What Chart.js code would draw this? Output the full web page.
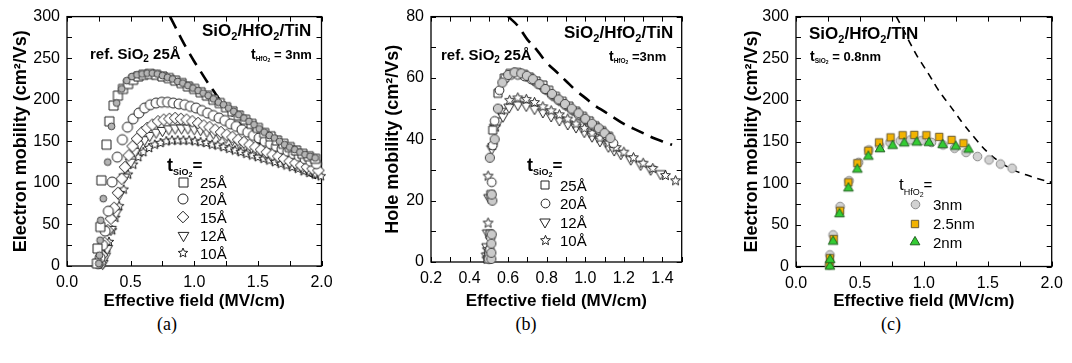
<!DOCTYPE html>
<html lang="en">

<head>
  <meta charset="UTF-8" />
  <title>Mobility vs effective field</title>
  <script src="https://cdn.jsdelivr.net/npm/chart.js"></script>
  <style>
    body { margin: 0; background: #fff; }
    #page { position: relative; width: 1072px; height: 363px; overflow: hidden; }
    canvas { position: absolute; top: 0; }
    .cap { position: absolute; top: 314px; font: 18px 'Liberation Serif', serif; color: #000; transform: translateX(-50%); }
  </style>
</head>

<body>
  <div id="page">
    <canvas id="chartA" width="340" height="312" style="left:0px"></canvas>
    <canvas id="chartB" width="335" height="312" style="left:365px"></canvas>
    <canvas id="chartC" width="352" height="312" style="left:720px"></canvas>
    <div class="cap" style="left:167px">(a)</div>
    <div class="cap" style="left:526px">(b)</div>
    <div class="cap" style="left:891px">(c)</div>
  </div>

  <script>
    // (a) electron mobility, t_HfO2 = 3nm, various t_SiO2  [field MV/cm, mobility cm2/Vs]
    const aRef = [[0.25,3],[0.255,13],[0.26,31],[0.265,55],[0.285,81],[0.32,125],[0.35,168],[0.39,196],[0.43,213],[0.47,223],[0.51,228],[0.55,230],[0.59,231],[0.63,232],[0.67,232],[0.71,231],[0.75,229],[0.79,227],[0.83,225],[0.87,222],[0.91,220],[0.95,217],[0.99,214],[1.03,211],[1.07,208],[1.11,205],[1.15,201],[1.19,197],[1.23,194],[1.27,190],[1.31,186],[1.35,182],[1.39,178],[1.43,174],[1.47,170],[1.51,165],[1.55,161],[1.59,157],[1.63,154],[1.67,150],[1.71,146],[1.75,143],[1.79,140],[1.83,137],[1.87,134],[1.91,132],[1.95,130]];
    const a25 = [[0.235,3],[0.24,21],[0.262,47],[0.27,103],[0.31,146],[0.333,174],[0.366,193],[0.40,205],[0.44,213],[0.48,219],[0.52,224],[0.56,228],[0.60,230],[0.65,231],[0.70,230],[0.75,228],[0.80,226],[0.85,223],[0.90,220],[0.95,216],[1.00,213],[1.05,209],[1.10,205],[1.15,200],[1.20,196],[1.25,191],[1.30,186],[1.35,181],[1.40,176],[1.45,171],[1.50,166],[1.55,160],[1.60,156],[1.65,151],[1.70,147],[1.75,143],[1.80,139],[1.85,135],[1.90,132],[1.95,129]];
    const a20 = [[0.245,3],[0.26,10],[0.28,25],[0.30,42],[0.325,66],[0.355,101],[0.395,131],[0.435,152],[0.475,167],[0.52,177],[0.565,184],[0.61,190],[0.655,194],[0.70,196],[0.745,197],[0.79,197],[0.835,196],[0.88,195],[0.925,194],[0.97,192],[1.015,190],[1.06,187],[1.105,184],[1.15,181],[1.195,178],[1.24,175],[1.285,171],[1.33,168],[1.375,164],[1.42,161],[1.465,157],[1.51,154],[1.555,150],[1.60,147],[1.645,144],[1.69,141],[1.735,138],[1.78,135],[1.825,132],[1.87,129],[1.915,126],[1.96,123]];
    const a15 = [[0.26,4],[0.275,13],[0.295,28],[0.32,43],[0.345,57],[0.37,70],[0.40,88],[0.43,105],[0.455,119],[0.485,133],[0.515,144],[0.55,153],[0.59,161],[0.63,166],[0.67,170],[0.715,174],[0.76,176],[0.805,177],[0.85,178],[0.895,177],[0.94,176],[0.985,174],[1.03,172],[1.075,169],[1.12,167],[1.165,164],[1.21,161],[1.255,158],[1.30,155],[1.345,152],[1.39,149],[1.435,146],[1.48,143],[1.525,140],[1.57,137],[1.615,134],[1.66,132],[1.705,129],[1.75,126],[1.795,124],[1.84,121],[1.885,119],[1.93,117],[1.975,115]];
    const a12 = [[0.28,3],[0.30,12],[0.315,21],[0.345,44],[0.385,64],[0.41,86],[0.45,107],[0.50,125],[0.535,138],[0.57,147],[0.61,152],[0.65,157],[0.70,161],[0.75,163],[0.80,165],[0.85,166],[0.90,166],[0.95,166],[1.00,165],[1.05,164],[1.10,162],[1.15,160],[1.20,158],[1.25,155],[1.30,152],[1.35,149],[1.40,146],[1.45,143],[1.50,140],[1.55,137],[1.60,134],[1.65,131],[1.70,128],[1.75,125],[1.80,122],[1.85,119],[1.90,116],[1.95,113]];
    const a10 = [[0.27,3],[0.295,13],[0.315,22],[0.33,29],[0.355,43],[0.38,58],[0.41,72],[0.445,92],[0.48,110],[0.52,122],[0.56,131],[0.60,137],[0.645,142],[0.69,146],[0.735,148],[0.78,150],[0.825,151],[0.87,151],[0.915,151],[0.96,151],[1.005,150],[1.05,149],[1.095,148],[1.14,146],[1.185,145],[1.23,143],[1.275,141],[1.32,139],[1.365,137],[1.41,135],[1.455,133],[1.50,131],[1.545,129],[1.59,127],[1.635,125],[1.68,123],[1.725,121],[1.77,119],[1.815,117],[1.86,114],[1.905,112],[1.95,110],[1.995,108]];
    const aUniv = [[0.81,300],[0.85,288],[0.9,273],[0.95,259],[1.0,246],[1.05,234],[1.1,222],[1.15,211],[1.2,200],[1.3,181],[1.4,164],[1.5,150],[1.6,137],[1.7,127],[1.8,118],[1.9,110],[2.0,103]];

    // (b) hole mobility
    const bRef = [[0.513,1],[0.513,3],[0.513,6],[0.515,9],[0.518,20],[0.515,22],[0.505,34],[0.53,40],[0.547,50],[0.57,58.5],[0.60,61],[0.633,61.8],[0.668,61.5],[0.697,60.7],[0.728,59.6],[0.762,58],[0.793,56.4],[0.828,54.8],[0.862,53],[0.895,51.5],[0.93,50],[0.965,48.5],[1.0,46.7],[1.035,45.1],[1.07,43.6],[1.10,42],[1.13,40.4]];
    const b25 = [[0.495,1],[0.50,3],[0.505,9],[0.51,22],[0.52,43],[0.547,55],[0.58,60],[0.61,61.5],[0.645,61.8],[0.68,61.2],[0.71,60.3],[0.745,59],[0.78,57.7],[0.81,56],[0.845,54],[0.88,52.4],[0.915,50.8],[0.95,49.2],[0.985,47.5],[1.02,46],[1.05,44.4],[1.085,42.8],[1.12,41]];
    const b20 = [[0.50,1],[0.505,4],[0.51,8],[0.515,26],[0.52,38],[0.53,46],[0.555,56],[0.585,60],[0.615,61],[0.65,61],[0.685,60.5],[0.72,59.5],[0.755,58],[0.79,56.3],[0.825,54.5],[0.86,52.8],[0.895,51.2],[0.93,49.6],[0.965,48],[1.0,46.4],[1.04,44.6],[1.075,43],[1.11,41.3],[1.146,38.7]];
    const b12 = [[0.488,2],[0.49,5],[0.493,9.5],[0.50,21],[0.515,37],[0.53,44],[0.55,46],[0.573,47.5],[0.605,50.5],[0.65,51.3],[0.694,51],[0.737,50],[0.78,48.9],[0.823,47.6],[0.866,46.3],[0.909,45],[0.952,44],[0.995,42.5],[1.035,41],[1.076,39.5],[1.12,37.7],[1.15,36.5],[1.184,35.3],[1.236,33.5],[1.287,31.8],[1.339,30.2],[1.39,28.8]];
    const b10 = [[0.49,1],[0.492,4],[0.496,12.7],[0.496,28],[0.52,38],[0.535,44],[0.565,49.5],[0.608,52.7],[0.65,53.5],[0.694,53],[0.737,52],[0.78,50.6],[0.823,49.3],[0.866,48],[0.909,46.6],[0.952,45],[0.995,43.6],[1.035,42],[1.076,40.4],[1.12,38.8],[1.16,37.3],[1.20,35.8],[1.25,34],[1.30,32.2],[1.35,30.5],[1.416,28.2],[1.468,26.5]];
    const bUniv = [[0.6,80],[0.65,77],[0.7,72.5],[0.75,69],[0.8,65],[0.85,62],[0.9,59],[0.95,56],[1.0,53.5],[1.05,51],[1.1,49],[1.15,47],[1.2,45],[1.25,43.5],[1.3,42],[1.35,40.5],[1.4,39.3],[1.45,38.2]];

    // (c) electron mobility, t_SiO2 = 0.8nm, various t_HfO2
    const c3 = [[0.26,2],[0.265,14],[0.29,38],[0.345,72],[0.415,103],[0.49,125],[0.57,140],[0.655,145],[0.735,149],[0.815,151],[0.895,152],[0.98,151],[1.06,149],[1.15,146],[1.24,142],[1.33,137],[1.42,132],[1.51,128],[1.60,123],[1.69,118]];
    const c25 = [[0.262,2],[0.265,10],[0.295,33],[0.345,67],[0.41,101],[0.48,124],[0.566,139],[0.65,149],[0.74,155],[0.834,157.6],[0.925,158],[1.02,157.6],[1.12,155.6],[1.217,152],[1.31,148]];
    const c2 = [[0.265,0],[0.267,8],[0.29,30],[0.34,63],[0.41,94],[0.48,116.5],[0.566,132],[0.657,141],[0.756,145],[0.847,148],[0.944,149],[1.04,148.5],[1.147,146],[1.25,144],[1.35,140.5]];
    const cUniv = [[0.785,300],[0.85,281],[0.9,266],[0.95,252],[1.0,240],[1.05,228],[1.1,215],[1.15,204],[1.2,194],[1.3,173],[1.4,154],[1.5,137],[1.6,125],[1.7,116],[1.8,110],[1.9,105],[2.0,101]];

    const FONT = "'Liberation Sans', Arial, sans-serif";
    Chart.defaults.font.family = FONT;
    Chart.defaults.color = '#000';

    // marker sprites, used both as pointStyle and in the hand drawn legends
    function marker(shape, r, fill, stroke) {
      const lw = 1;
      const s = Math.ceil(2 * r + 4);
      const cv = document.createElement('canvas');
      cv.width = cv.height = s;
      const g = cv.getContext('2d');
      const c = s / 2;
      g.beginPath();
      if (shape === 'circle') g.arc(c, c, r, 0, Math.PI * 2);
      else if (shape === 'square') g.rect(c - r, c - r, 2 * r, 2 * r);
      else if (shape === 'diamond') {
        g.moveTo(c, c - r); g.lineTo(c + r, c); g.lineTo(c, c + r); g.lineTo(c - r, c); g.closePath();
      } else if (shape === 'triDown') {
        g.moveTo(c, c + r); g.lineTo(c - r * 0.866, c - r / 2); g.lineTo(c + r * 0.866, c - r / 2); g.closePath();
      } else if (shape === 'triUp') {
        g.moveTo(c, c - r); g.lineTo(c - r * 0.866, c + r / 2); g.lineTo(c + r * 0.866, c + r / 2); g.closePath();
      } else if (shape === 'star') {
        for (let i = 0; i < 10; i++) {
          const rr = i % 2 ? r * 0.45 : r;
          const ang = -Math.PI / 2 + i * Math.PI / 5;
          const px = c + rr * Math.cos(ang), py = c + rr * Math.sin(ang);
          if (i === 0) g.moveTo(px, py); else g.lineTo(px, py);
        }
        g.closePath();
      }
      g.fillStyle = fill;
      g.fill();
      g.lineWidth = lw;
      g.strokeStyle = stroke;
      g.stroke();
      return cv;
    }

    const mk = {
      aGray: marker('circle', 3.4, '#b4b4b4', '#444'),
      aSq: marker('square', 4.5, '#fff', '#222'),
      aCirc: marker('circle', 5, '#fff', '#222'),
      aDia: marker('diamond', 5.8, '#fff', '#222'),
      aTri: marker('triDown', 6.2, '#fff', '#222'),
      aStar: marker('star', 5, '#fff', '#222'),
      bGray: marker('circle', 4.6, '#cacaca', '#444'),
      bSq: marker('square', 4, '#fff', '#222'),
      bCirc: marker('circle', 4.4, '#fff', '#222'),
      bTri: marker('triDown', 6, '#fff', '#222'),
      bStar: marker('star', 5.2, '#fff', '#222'),
      cCirc: marker('circle', 4.3, '#d2d2d2', '#888'),
      cSq: marker('square', 3.7, '#f2b300', '#6a5a30'),
      cTri: marker('triUp', 5.6, '#33cc33', '#1f5f1f')
    };

    function pts(arr) { return arr.map(p => ({ x: p[0], y: p[1] })); }

    function markers(arr, sprite) {
      return { data: pts(arr), pointStyle: sprite, pointRadius: 5, showLine: false, clip: false };
    }

    function dashed(arr, width, dash) {
      return {
        data: pts(arr), showLine: true, pointRadius: 0, borderColor: '#000', borderWidth: width,
        borderDash: dash, order: 10, tension: 0.4
      };
    }

    // frame, inward ticks on all sides, and free text
    const framePlugin = {
      id: 'frame',
      beforeDatasetsDraw(chart) {
        const { ctx, chartArea: a, scales: { x, y } } = chart;
        ctx.save();
        ctx.strokeStyle = '#000';
        ctx.lineWidth = 1.3;
        ctx.strokeRect(a.left, a.top, a.right - a.left, a.bottom - a.top);
        ctx.lineWidth = 1;
        const L = 5;
        ctx.beginPath();
        x.ticks.forEach(t => {
          const px = Math.round(x.getPixelForValue(t.value)) + 0.5;
          ctx.moveTo(px, a.bottom); ctx.lineTo(px, a.bottom - L);
          ctx.moveTo(px, a.top); ctx.lineTo(px, a.top + L);
        });
        y.ticks.forEach(t => {
          const py = Math.round(y.getPixelForValue(t.value)) + 0.5;
          ctx.moveTo(a.left, py); ctx.lineTo(a.left + L, py);
          ctx.moveTo(a.right, py); ctx.lineTo(a.right - L, py);
        });
        ctx.stroke();
        ctx.restore();
      },
      afterDatasetsDraw(chart, args, opts) {
        const ctx = chart.ctx;
        ctx.save();
        ctx.fillStyle = '#000';
        ctx.textBaseline = 'alphabetic';
        (opts.texts || []).forEach(t => rich(ctx, t.x - opts.dx, t.y, t.parts));
        (opts.legend || []).forEach(e => {
          const s = e.sprite;
          ctx.drawImage(s, Math.round(e.mx - opts.dx - s.width / 2), Math.round(e.y - s.height / 2));
          ctx.font = '15px ' + FONT;
          ctx.fillText(e.label, e.tx - opts.dx, e.y + 5.5);
        });
        ctx.restore();
      }
    };

    function rich(ctx, x, y, parts) {
      parts.forEach(([text, size, weight, dy]) => {
        ctx.font = weight + ' ' + size + 'px ' + FONT;
        ctx.fillText(text, x, y + (dy || 0));
        x += ctx.measureText(text).width;
      });
    }

    function material(x, y) {
      return { x, y, parts: [['SiO', 17, 'bold'], ['2', 11, 'bold', 4], ['/HfO', 17, 'bold'], ['2', 11, 'bold', 4], ['/TiN', 17, 'bold']] };
    }
    function refLabel(x, y) {
      return { x, y, parts: [['ref. SiO', 15, 'bold'], ['2', 10, 'bold', 3], [' 25Å', 15, 'bold']] };
    }
    function thick(x, y, sub, rest) {
      return { x, y, parts: [['t', 14, 'bold'], [sub, 6.5, 'bold', 2], ['2', 5, 'bold', 3], [rest, 13, 'bold']] };
    }

    function panel(id, cfg) {
      const yTitle = cfg.yTitle;
      new Chart(document.getElementById(id), {
        type: 'scatter',
        data: { datasets: cfg.datasets },
        plugins: [framePlugin],
        options: {
          responsive: false,
          animation: false,
          events: [],
          layout: { padding: { left: 0, top: 13, right: cfg.right, bottom: 0 } },
          plugins: {
            legend: { display: false },
            tooltip: { enabled: false },
            frame: { dx: cfg.dx, texts: cfg.texts, legend: cfg.legend }
          },
          scales: {
            x: {
              type: 'linear', min: cfg.xMin, max: cfg.xMax,
              afterFit: s => { s.height = cfg.xh; },
              grid: { display: false, drawTicks: false },
              border: { display: false },
              ticks: {
                stepSize: cfg.xStep, autoSkip: false, maxRotation: 0, padding: cfg.xPad,
                font: { size: 16 }, callback: cfg.xLabel
              },
              title: {
                display: true, text: 'Effective field (MV/cm)',
                font: { size: 17, weight: 'bold' }, padding: { top: 0, bottom: 0 }
              }
            },
            y: {
              type: 'linear', min: 0, max: cfg.yMax,
              afterFit: s => { s.width = cfg.yw; },
              grid: { display: false, drawTicks: false },
              border: { display: false },
              ticks: {
                stepSize: cfg.yStep, autoSkip: false, padding: 7,
                font: { size: 16 }, callback: cfg.yLabel
              },
              title: {
                display: true, text: yTitle,
                font: { size: 18, weight: 'bold' }, padding: { top: cfg.yTitlePad, bottom: 0 }
              }
            }
          }
        }
      });
    }

    const halfLabel = v => (Math.round(v * 100) % 50 === 0 ? v.toFixed(1) : '');
    const every50 = v => (Math.round(v) % 50 === 0 ? String(Math.round(v)) : '');

    panel('chartA', {
      dx: 0, right: 18.5, xh: 46, yw: 67, yTitlePad: 10, xPad: 7,
      xMin: 0, xMax: 2, xStep: 0.25, xLabel: halfLabel,
      yMax: 300, yStep: 25, yLabel: every50,
      yTitle: 'Electron mobility (cm²/Vs)',
      datasets: [
        markers(aRef, mk.aGray),
        markers(a25, mk.aSq),
        markers(a20, mk.aCirc),
        markers(a15, mk.aDia),
        markers(a12, mk.aTri),
        markers(a10, mk.aStar),
        dashed(aUniv, 2.6, [13, 8])
      ],
      texts: [
        refLabel(90, 59),
        material(202, 36),
        thick(251, 59, 'HfO', ' = 3nm'),
        { x: 167, y: 171, parts: [['t', 18, 'bold'], ['SiO', 9, 'bold', 4], ['2', 7, 'bold', 6], ['=', 17, 'bold']] }
      ],
      legend: [
        { sprite: mk.aSq, mx: 183, tx: 200, y: 182, label: '25Å' },
        { sprite: mk.aCirc, mx: 183, tx: 200, y: 199, label: '20Å' },
        { sprite: mk.aDia, mx: 183, tx: 200, y: 217, label: '15Å' },
        { sprite: mk.aTri, mx: 183, tx: 200, y: 235.5, label: '12Å' },
        { sprite: mk.aStar, mx: 183, tx: 200, y: 253, label: '10Å' }
      ]
    });

    panel('chartB', {
      dx: 365, right: 18.3, xh: 50, yw: 66, yTitlePad: 17.5, xPad: 7,
      xMin: 0.2, xMax: 1.5, xStep: 0.1,
      xLabel: v => { const k = Math.round(v * 10); return (k % 2 === 0 && k <= 14) ? (k / 10).toFixed(1) : ''; },
      yMax: 80, yStep: 10, yLabel: v => (Math.round(v) % 20 === 0 ? String(Math.round(v)) : ''),
      yTitle: 'Hole mobility (cm²/Vs)',
      datasets: [
        markers(bRef, mk.bGray),
        markers(b20, mk.bCirc),
        markers(b25, mk.bSq),
        markers(b10, mk.bStar),
        markers(b12, mk.bTri),
        dashed(bUniv, 2.6, [13, 8])
      ],
      texts: [
        refLabel(441, 60),
        material(564, 38),
        thick(609, 61, 'HfO', ' =3nm'),
        { x: 527, y: 171, parts: [['t', 18, 'bold'], ['SiO', 9, 'bold', 4], ['2', 7, 'bold', 6], ['=', 17, 'bold']] }
      ],
      legend: [
        { sprite: mk.bSq, mx: 545, tx: 560, y: 185, label: '25Å' },
        { sprite: mk.bCirc, mx: 545, tx: 560, y: 203.5, label: '20Å' },
        { sprite: mk.bTri, mx: 545, tx: 560, y: 222, label: '12Å' },
        { sprite: mk.bStar, mx: 545, tx: 560, y: 240.5, label: '10Å' }
      ]
    });

    panel('chartC', {
      dx: 720, right: 20.3, xh: 45.5, yw: 76, yTitlePad: 21, xPad: 7,
      xMin: 0, xMax: 2, xStep: 0.25, xLabel: halfLabel,
      yMax: 300, yStep: 25, yLabel: every50,
      yTitle: 'Electron mobility (cm²/Vs)',
      datasets: [
        markers(c2, mk.cTri),
        markers(c25, mk.cSq),
        markers(c3, mk.cCirc),
        dashed(cUniv, 1.6, [7, 6])
      ],
      texts: [
        material(809, 39),
        thick(810, 61, 'SiO', ' = 0.8nm'),
        { x: 899, y: 190, parts: [['t', 17, 'normal'], ['HfO', 9, 'normal', 5], ['2', 7, 'normal', 7], ['=', 15, 'normal']] }
      ],
      legend: [
        { sprite: mk.cCirc, mx: 915, tx: 933, y: 204, label: '3nm' },
        { sprite: mk.cSq, mx: 915, tx: 933, y: 223.5, label: '2.5nm' },
        { sprite: mk.cTri, mx: 915, tx: 933, y: 242, label: '2nm' }
      ]
    });
  </script>
</body>

</html>
